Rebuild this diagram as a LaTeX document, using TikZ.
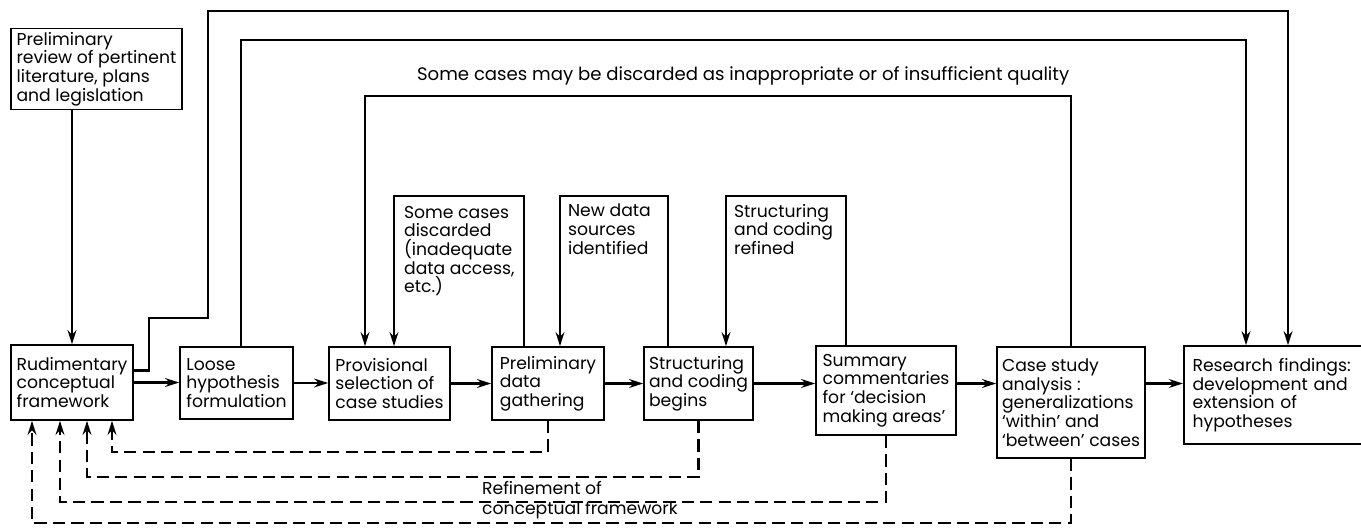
\documentclass[tikz,border=0pt]{standalone}
\usepackage{fontspec}
\setmainfont{Poppins}
\usetikzlibrary{arrows.meta,positioning,calc}
\tikzset{
  base/.style={font=\fontsize{9.8}{10.6}\selectfont, align=left, inner sep=2pt, text=black},
  stage/.style={base, rectangle, draw=black, fill=white, line width=0.9pt},
  arr/.style={-{Stealth[length=8pt,width=5pt]}, line width=1.3pt, draw=black},
  arrd/.style={arr, dash pattern=on 7pt off 3.5pt},
  lbl/.style={base, inner sep=1pt},
}
\begin{document}
\begin{tikzpicture}[x=0.02cm,y=-0.02cm]
  \useasboundingbox (0,0) rectangle (1361,528);
  % stages
  \node[stage,minimum width=3.42cm,minimum height=1.56cm] (rev) at (96.5,69) {Preliminary\\review of pertinent\\literature, plans\\and legislation};
  \node[stage,minimum width=2.44cm,minimum height=1.5cm]  (rud) at (72,382.5) {Rudimentary\\conceptual\\framework};
  \node[stage,minimum width=2.26cm,minimum height=1.44cm] (hyp) at (236.5,383) {Loose\\hypothesis\\formulation};
  \node[stage,minimum width=2.42cm,minimum height=1.46cm] (sel) at (389.5,383.5) {Provisional\\selection of\\case studies};
  \node[stage,minimum width=2.24cm,minimum height=1.46cm] (gath) at (548,383.5) {Preliminary\\data\\gathering};
  \node[stage,minimum width=2.18cm,minimum height=1.46cm] (code) at (698.5,383.5) {Structuring\\and coding\\begins};
  \node[stage,minimum width=2.8cm,minimum height=1.78cm]  (summ) at (886,390.5) {Summary\\commentaries\\for ‘decision\\making areas’};
  \node[stage,minimum width=2.96cm,minimum height=2.22cm] (anal) at (1071,402.5) {Case study\\analysis :\\generalizations\\‘within’ and\\‘between’ cases};
  \node[stage,anchor=west,inner xsep=5pt,text width=3.6cm,minimum height=1.96cm] (find) at (1183,395) {Research findings:\\development and\\extension of\\hypotheses};
  % main flow
  \draw[arr] (rev.south -| rud.north) -- (rud.north);
  \draw[arr] (rud.east) -- (rud.east -| hyp.west);
  \draw[arr] (hyp.east) -- (hyp.east -| sel.west);
  \draw[arr] (sel.east) -- (sel.east -| gath.west);
  \draw[arr] (gath.east) -- (gath.east -| code.west);
  \draw[arr] (code.east) -- (code.east -| summ.west);
  \draw[arr] (code.east -| summ.east) -- (code.east -| anal.west);
  \draw[arr] (code.east -| anal.east) -- (code.east -| find.west);
  % loops over the top
  \coordinate (jog) at (208,318);
  \coordinate (top1) at (1288,11);
  \coordinate (top2) at (1246,40);
  \coordinate (top3) at (365,96);
  \coordinate (in1) at (394,196);
  \coordinate (in2) at (560,196);
  \coordinate (in3) at (726,196);
  \draw[arr] ([yshift=0.24cm]rud.east) -- ++(15,0) |- (jog) |- (top1) -- (top1 |- find.north);
  \draw[arr] ([xshift=0.09cm]hyp.north) |- (top2) -- (top2 |- find.north);
  \draw[arr] (anal.north) |- (top3) -- (top3 |- sel.north);
  \draw[arr] ([xshift=-0.48cm]gath.north) |- (in1) -- (in1 |- sel.north);
  \draw[arr] ([xshift=-0.61cm]code.north) |- (in2) -- (in2 |- gath.north);
  \draw[arr] ([xshift=-0.8cm]summ.north) |- (in3) -- (in3 |- code.north);
  \node[lbl,anchor=west,font=\fontsize{10.3}{12}\selectfont] (qual) at (415,76) {Some cases may be discarded as inappropriate or of insufficient quality};
  \node[lbl,anchor=north west] (disc) at (402,204) {Some cases\\discarded\\(inadequate\\data access,\\etc.)};
  \node[lbl,anchor=north west] (newsrc) at (566,202) {New data\\sources\\identified};
  \node[lbl,anchor=north west] (refd) at (732,202) {Structuring\\and coding\\refined};
  % refinement feedback
  \coordinate (fb1) at (112,452);
  \coordinate (fb2) at (87,477);
  \coordinate (fb3) at (60,502);
  \coordinate (fb4) at (32,523);
  \draw[arrd] (gath.south) |- (fb1) -- (fb1 |- rud.south);
  \draw[arrd] (code.south) |- (fb2) -- (fb2 |- rud.south);
  \draw[arrd] (summ.south) |- (fb3) -- (fb3 |- rud.south);
  \draw[arrd] (anal.south) |- (fb4) -- (fb4 |- rud.south);
  \node[lbl,anchor=west] (refine) at (480,500) {Refinement of\\[1pt]conceptual framework};
\end{tikzpicture}
\end{document}
